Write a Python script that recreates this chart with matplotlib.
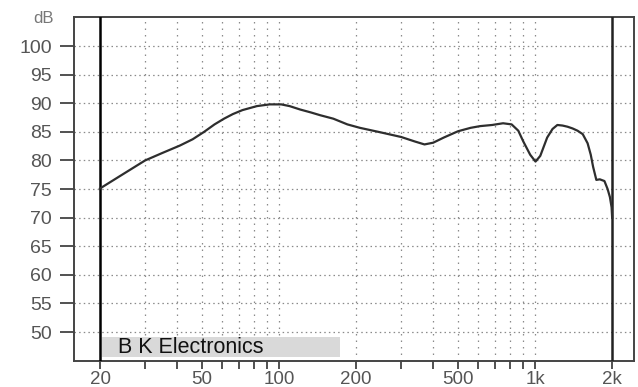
import matplotlib.pyplot as plt
from matplotlib.patches import Rectangle

plt.rcParams['font.family'] = ['Liberation Sans', 'DejaVu Sans']

# frequency response
freq = [20, 25, 30, 35, 41, 46, 51, 56, 61, 66, 72, 82, 92, 102, 110, 121, 133,
        145, 163, 185, 207, 250, 300, 340, 370, 400, 440, 500, 560, 610, 680,
        750, 810, 860, 900, 957, 1004, 1048, 1115, 1170, 1222, 1280, 1338, 1400,
        1465, 1535, 1604, 1650, 1685, 1735, 1790, 1866, 1920, 1960, 1990, 2000]
db = [75.1, 77.8, 80.0, 81.3, 82.6, 83.7, 85.0, 86.3, 87.3, 88.1, 88.8, 89.5,
      89.8, 89.8, 89.5, 88.9, 88.4, 87.9, 87.3, 86.3, 85.7, 84.9, 84.1, 83.3,
      82.8, 83.1, 84.0, 85.1, 85.7, 86.0, 86.2, 86.5, 86.3, 85.2, 83.3, 81.0,
      79.8, 80.8, 84.0, 85.5, 86.2, 86.1, 85.9, 85.6, 85.2, 84.6, 83.0, 81.0,
      78.9, 76.6, 76.7, 76.4, 75.0, 73.6, 71.8, 70.0]

x_ticks = [20, 30, 40, 50, 60, 70, 80, 90, 100, 200, 300, 400, 500, 600, 700,
           800, 900, 1000, 2000]
x_labels = {20: '20', 50: '50', 100: '100', 200: '200', 500: '500',
            1000: '1k', 2000: '2k'}
x_grid = [30, 40, 50, 60, 70, 80, 90, 100, 200, 300, 400, 500, 600, 700, 800,
          900, 1000]
y_ticks = [50, 55, 60, 65, 70, 75, 80, 85, 90, 95, 100]

fig = plt.figure(figsize=(6.38, 3.87), dpi=100)
ax = fig.add_axes([0.116, 0.067, 0.878, 0.889])
ax.set_xscale('log')
ax.set_xlim(15.83, 2438)
ax.set_ylim(44.93, 105.07)

grid_col = '#8a8a8a'
for g in x_grid:
    ax.axvline(g, color=grid_col, lw=0.9, ls=(0, (1.2, 4)), zorder=1)
for g in y_ticks:
    ax.axhline(g, color=grid_col, lw=0.9, ls=(0, (1.2, 2.5)), zorder=1)
ax.axvline(20, color='black', lw=1.8, zorder=3)
ax.axvline(2000, color='#222222', lw=1.8, zorder=3)

ax.plot(freq, db, color='#2e2e2e', lw=1.6, zorder=4)

ax.set_xticks(x_ticks)
ax.set_xticklabels([x_labels.get(t, '') for t in x_ticks])
ax.xaxis.set_minor_locator(plt.NullLocator())
ax.set_yticks(y_ticks)
ax.set_yticklabels([str(t) for t in y_ticks])
ax.tick_params(axis='x', length=6, width=1.2, color='#333333', pad=1,
               labelsize=13.5, labelcolor='#555555')
ax.tick_params(axis='y', length=10, width=1.2, color='#333333', pad=6,
               labelsize=14, labelcolor='#555555')
for s in ax.spines.values():
    s.set_color('#444444')
    s.set_linewidth(1.4)

fig.text(0.068, 0.953, 'dB', fontsize=12, color='#777777', ha='center', va='center')

# label box at bottom left
ax.add_patch(Rectangle((20.3, 45.6), 173 - 20.3, 3.5, facecolor='#d9d9d9',
                       edgecolor='none', zorder=2))
ax.text(23.6, 47.3, 'B K Electronics', fontsize=15.5, color='#111111',
        va='center', ha='left', zorder=5)

plt.savefig('out.png', dpi=100)
